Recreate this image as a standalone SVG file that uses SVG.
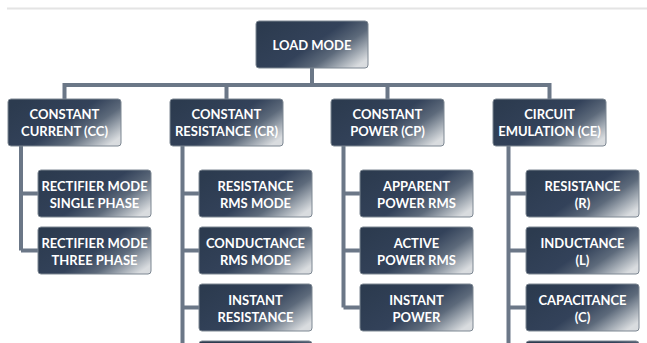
<svg xmlns="http://www.w3.org/2000/svg" width="647" height="343" viewBox="0 0 647 343">
<defs>
<linearGradient id="g" x1="0" y1="0.2" x2="1" y2="0.8">
<stop offset="0" stop-color="#2c3b4f"/>
<stop offset="0.5" stop-color="#33425a"/>
<stop offset="0.72" stop-color="#5d6a7b"/>
<stop offset="0.88" stop-color="#a4acb5"/>
<stop offset="1" stop-color="#d9dcdf"/>
</linearGradient>
</defs>
<style>
.b{fill:url(#g);stroke:#7d8792;stroke-width:1}
.t{font-family:Lato,"Open Sans",sans-serif;font-weight:bold;font-size:13px;fill:#ffffff;text-anchor:middle}
.c{stroke:#6b7787;stroke-width:4;fill:none}
</style>
<rect width="647" height="343" fill="#ffffff"/>
<line x1="7" y1="8.5" x2="647" y2="8.5" stroke="#e4e4e4" stroke-width="2"/>
<g id="connectors" class="c">
<path d="M312 68V85M62.5 85H551.5M64.5 85V99M226.5 85V99M387.5 85V99M549.5 85V99"/>
<path d="M21 146V250.5M21 193.5H38M21 250.5H38"/>
<path d="M182.5 146V343M182.5 193.5H199M182.5 250.5H199M182.5 307.5H199"/>
<path d="M343.5 146V307.5M343.5 193.5H360M343.5 250.5H360M343.5 307.5H360"/>
<path d="M508.5 146V343M508.5 193.5H526M508.5 250.5H526M508.5 307.5H526"/>
</g>
<g id="load-mode"><rect class="b" x="256" y="21" width="112" height="47" rx="3"/><text class="t" x="312" y="49.5">LOAD MODE</text></g>
<g id="cc"><rect class="b" x="8" y="99" width="113" height="47" rx="3"/><text class="t" x="64.5" y="118.5">CONSTANT</text><text class="t" x="64.5" y="136">CURRENT (CC)</text></g>
<g id="cr"><rect class="b" x="170" y="99" width="113" height="47" rx="3"/><text class="t" x="226.5" y="118.5">CONSTANT</text><text class="t" x="226.5" y="136">RESISTANCE (CR)</text></g>
<g id="cp"><rect class="b" x="331" y="99" width="113" height="47" rx="3"/><text class="t" x="387.5" y="118.5">CONSTANT</text><text class="t" x="387.5" y="136">POWER (CP)</text></g>
<g id="ce"><rect class="b" x="493" y="99" width="113" height="47" rx="3"/><text class="t" x="549.5" y="118.5">CIRCUIT</text><text class="t" x="549.5" y="136">EMULATION (CE)</text></g>
<g id="cc-1"><rect class="b" x="38" y="170" width="113" height="47" rx="3"/><text class="t" x="94.5" y="191">RECTIFIER MODE</text><text class="t" x="94.5" y="208">SINGLE PHASE</text></g>
<g id="cc-2"><rect class="b" x="38" y="227" width="113" height="47" rx="3"/><text class="t" x="94.5" y="248">RECTIFIER MODE</text><text class="t" x="94.5" y="265">THREE PHASE</text></g>
<g id="cr-1"><rect class="b" x="199" y="170" width="113" height="47" rx="3"/><text class="t" x="255.5" y="191">RESISTANCE</text><text class="t" x="255.5" y="208">RMS MODE</text></g>
<g id="cr-2"><rect class="b" x="199" y="227" width="113" height="47" rx="3"/><text class="t" x="255.5" y="248">CONDUCTANCE</text><text class="t" x="255.5" y="265">RMS MODE</text></g>
<g id="cr-3"><rect class="b" x="199" y="284" width="113" height="47" rx="3"/><text class="t" x="255.5" y="305">INSTANT</text><text class="t" x="255.5" y="322">RESISTANCE</text></g>
<g id="cr-4"><rect class="b" x="199" y="341" width="113" height="47" rx="3"/></g>
<g id="cp-1"><rect class="b" x="360" y="170" width="113" height="47" rx="3"/><text class="t" x="416.5" y="191">APPARENT</text><text class="t" x="416.5" y="208">POWER RMS</text></g>
<g id="cp-2"><rect class="b" x="360" y="227" width="113" height="47" rx="3"/><text class="t" x="416.5" y="248">ACTIVE</text><text class="t" x="416.5" y="265">POWER RMS</text></g>
<g id="cp-3"><rect class="b" x="360" y="284" width="113" height="47" rx="3"/><text class="t" x="416.5" y="305">INSTANT</text><text class="t" x="416.5" y="322">POWER</text></g>
<g id="ce-1"><rect class="b" x="526" y="170" width="113" height="47" rx="3"/><text class="t" x="582.5" y="191">RESISTANCE</text><text class="t" x="582.5" y="208">(R)</text></g>
<g id="ce-2"><rect class="b" x="526" y="227" width="113" height="47" rx="3"/><text class="t" x="582.5" y="248">INDUCTANCE</text><text class="t" x="582.5" y="265">(L)</text></g>
<g id="ce-3"><rect class="b" x="526" y="284" width="113" height="47" rx="3"/><text class="t" x="582.5" y="305">CAPACITANCE</text><text class="t" x="582.5" y="322">(C)</text></g>
<g id="ce-4"><rect class="b" x="526" y="341" width="113" height="47" rx="3"/></g>
</svg>
